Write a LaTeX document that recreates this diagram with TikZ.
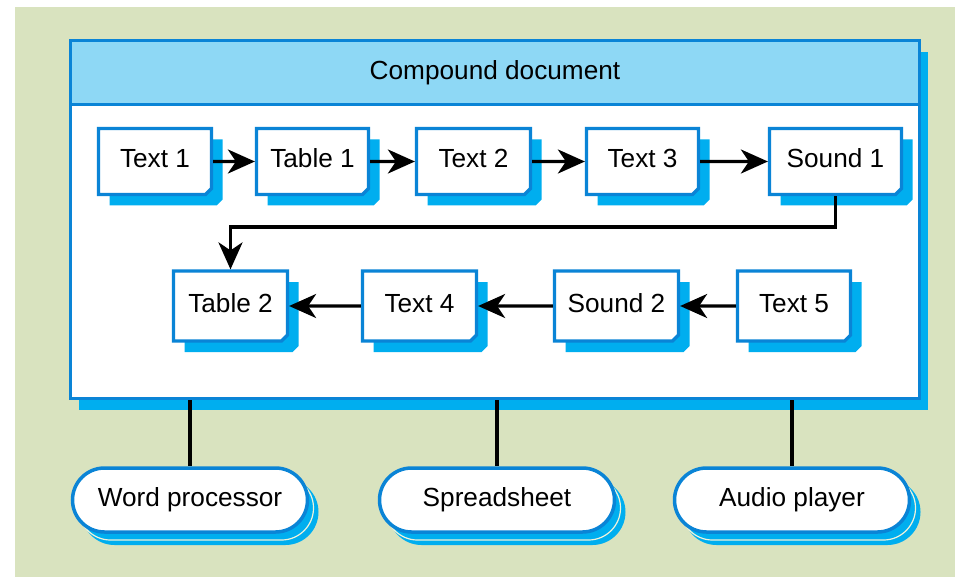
\documentclass[tikz,border=0pt]{standalone}
\usepackage{fontspec}
\setmainfont{Liberation Sans}
\usetikzlibrary{shapes.misc,arrows.meta,shadows}
\definecolor{bgc}{HTML}{D9E3BF}
\definecolor{bordc}{HTML}{0A84D6}
\definecolor{shc}{HTML}{00AEEF}
\definecolor{hdc}{HTML}{8ED8F5}
\definecolor{creamc}{HTML}{EEF2DC}
\begin{document}
\begin{tikzpicture}[x=1pt,y=-1pt,
  font=\fontsize{26.2}{30}\selectfont,
  docbox/.style={chamfered rectangle, chamfered rectangle corners=south east,
    chamfered rectangle xsep=3pt, chamfered rectangle ysep=3pt,
    draw=bordc, line width=3.2pt, fill=white, inner sep=0pt,
    text height=12pt, text depth=0pt,
    drop shadow={shadow xshift=11pt, shadow yshift=-11pt, fill=shc, opacity=1, draw=none}},
  pill/.style={rounded rectangle, draw=bordc, line width=3.5pt, fill=white,
    minimum width=235pt, minimum height=64pt, inner sep=0pt,
    text height=12pt, text depth=0pt,
    drop shadow={shadow xshift=10pt, shadow yshift=-12pt, fill=shc, draw=shc, line width=2pt, opacity=1},
    drop shadow={shadow xshift=6pt, shadow yshift=-8pt, fill=none, draw=creamc, line width=1.2pt, opacity=1}},
  conn/.style={line width=3.4pt, -{Stealth[length=27pt,width=24pt,inset=8pt]}},
  link/.style={line width=3.4pt}]
\useasboundingbox (0,0) rectangle (955,577);
\fill[bgc] (15,7) rectangle (955,577);
% compound document
\node[draw=bordc, line width=3.5pt, fill=white, minimum width=849pt, minimum height=358pt,
  drop shadow={shadow xshift=8.5pt, shadow yshift=-11.5pt, fill=shc, opacity=1}]
  (doc) at (495,219.5) {};
\node[draw=bordc, line width=3.5pt, fill=hdc, minimum width=849pt, minimum height=64pt,
  text height=14pt, text depth=0pt]
  (hdr) at (495,72.5) {Compound document};
% row 1
\node[docbox, minimum width=113pt, minimum height=66pt] (t1) at (155,161.5) {Text 1};
\node[docbox, minimum width=112pt, minimum height=66pt] (tb1) at (312.5,161.5) {Table 1};
\node[docbox, minimum width=114pt, minimum height=66pt] (t2) at (473.5,161.5) {Text 2};
\node[docbox, minimum width=112pt, minimum height=66pt] (t3) at (642.5,161.5) {Text 3};
\node[docbox, minimum width=132pt, minimum height=66pt] (s1) at (835.5,161.5) {Sound 1};
% row 2
\node[docbox, minimum width=114pt, minimum height=70pt] (tb2) at (230.5,306) {Table 2};
\node[docbox, minimum width=114pt, minimum height=70pt] (t4) at (419.5,306) {Text 4};
\node[docbox, minimum width=124pt, minimum height=70pt] (s2) at (616.5,306) {Sound 2};
\node[docbox, minimum width=113pt, minimum height=70pt] (t5) at (794,306) {Text 5};
% arrows
\draw[conn] (t1) -- (tb1);
\draw[conn] (tb1) -- (t2);
\draw[conn] (t2) -- (t3);
\draw[conn] (t3) -- (s1);
\coordinate (turn) at (530,227);
\draw[conn] (s1.south) |- (turn) -| (tb2.north);
\draw[conn] (t5) -- (s2);
\draw[conn] (s2) -- (t4);
\draw[conn] (t4) -- (tb2);
% applications
\node[pill] (wp) at (190,500) {Word processor};
\node[pill] (ss) at (497,500) {Spreadsheet};
\node[pill] (ap) at (792,500) {Audio player};
\draw[link] (wp.north |- doc.south) -- (wp.north);
\draw[link] (ss.north |- doc.south) -- (ss.north);
\draw[link] (ap.north |- doc.south) -- (ap.north);
\end{tikzpicture}
\end{document}
